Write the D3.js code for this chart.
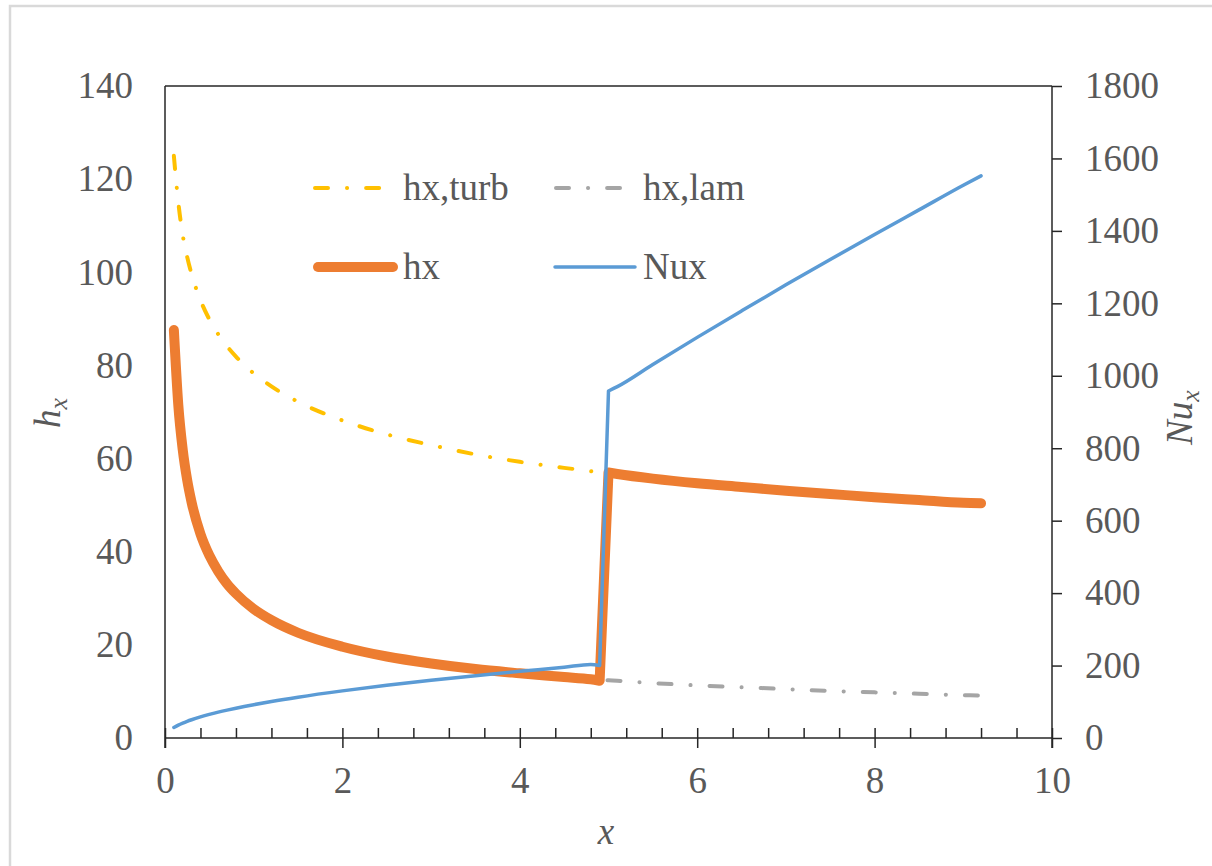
<!DOCTYPE html>
<html>
<head>
<meta charset="utf-8">
<script src="https://cdn.jsdelivr.net/npm/d3@7"></script>
<style>
  html, body { margin: 0; padding: 0; background: #fff; }
  svg { display: block; }
  text { font-family: "Liberation Serif", "Times New Roman", serif; fill: #595959; }
</style>
</head>
<body>
<svg id="chart" width="1212" height="866"></svg>
<script>
// ---- data ----
const xValues = [0.1,0.15,0.2,0.25,0.3,0.4,0.5,0.6,0.7,0.8,1.0,1.2,1.5,2.0,2.5,3.0,3.5,4.0,4.5,4.8,4.9,5.0,5.1,5.5,6.0,6.5,7.0,7.5,8.0,8.5,9.0,9.2];
const hxTurb = [125.0,115.0,108.0,103.3,99.6,94.0,89.9,86.7,84.1,81.9,78.3,75.5,72.2,68.2,65.2,62.9,60.9,59.3,58.0,57.3,57.0,56.8,56.6,55.7,54.7,53.9,53.1,52.4,51.7,51.1,50.5,50.3];
const hxLam  = [87.6,71.5,61.9,55.4,50.6,43.8,39.2,35.8,33.1,31.0,27.7,25.3,22.6,19.6,17.5,16.0,14.8,13.9,13.1,12.6,12.5,12.4,12.3,11.8,11.3,10.9,10.5,10.1,9.8,9.5,9.2,9.1];
const hx     = [87.6,71.5,61.9,55.4,50.6,43.8,39.2,35.8,33.1,31.0,27.7,25.3,22.6,19.6,17.5,16.0,14.8,13.9,13.1,12.6,12.3,57.0,56.7,55.7,54.7,53.9,53.1,52.4,51.7,51.1,50.5,50.4];
const nux    = [29,35.6,41.1,46,50.4,58.2,65.1,71.3,77.0,82.3,92,100.8,112.7,130.1,145.5,159.3,172.1,184,195.2,203,200,958,970,1031,1106,1179,1251,1321,1390,1458,1526,1552];
const transitionX = 5.0; // first x of the turbulent branch (jump in hx / Nux)

const xTicks = [0,2,4,6,8,10];
const xMinorTicks = [0.4,0.8,1.2,1.6,2.4,2.8,3.2,3.6,4.4,4.8,5.2,5.6,6.4,6.8,7.2,7.6,8.4,8.8,9.2,9.6];
const yLeftTicks = [0,20,40,60,80,100,120,140];
const yRightTicks = [0,200,400,600,800,1000,1200,1400,1600,1800];

const seriesNames = ["hx,turb","hx,lam","hx","Nux"];
const seriesColors = ["#FFC000","#A5A5A5","#ED7D31","#5B9BD5"];

// ---- layout ----
const W = 1212, H = 866;
const plot = { left: 165, right: 1052, top: 86, bottom: 738 };
const axisColor = "#262626";
const fontSize = 37;

const svg = d3.select("#chart");
svg.append("rect").attr("width", W).attr("height", H).attr("fill", "#fff");
svg.append("rect").attr("x", 10).attr("y", 6).attr("width", 1230).attr("height", 900)
  .attr("fill", "none").attr("stroke", "#d9d9d9").attr("stroke-width", 2.5);

const x = d3.scaleLinear().domain([0,10]).range([plot.left, plot.right]);
const yL = d3.scaleLinear().domain([0,140]).range([plot.bottom, plot.top]);
const yR = d3.scaleLinear().domain([0,1800]).range([plot.bottom, plot.top]);

svg.append("line").attr("x1", plot.left).attr("x2", plot.right)
  .attr("y1", plot.top).attr("y2", plot.top)
  .attr("stroke", axisColor).attr("stroke-width", 1.5);

const gL = svg.append("g").attr("transform", `translate(${plot.left},0)`)
  .call(d3.axisLeft(yL).tickValues(yLeftTicks).tickSize(0).tickPadding(32).tickFormat(d3.format("d")));
gL.select(".domain").remove();
gL.append("line").attr("x1",0).attr("x2",0).attr("y1",plot.top).attr("y2",plot.bottom+10)
  .attr("stroke", axisColor).attr("stroke-width", 1.5);
gL.selectAll("text").attr("font-size", fontSize).attr("dy", "0.32em")
  .style("font-family", '"Liberation Serif", serif').attr("fill", "#595959");

const gR = svg.append("g").attr("transform", `translate(${plot.right},0)`)
  .call(d3.axisRight(yR).tickValues(yRightTicks).tickSize(10).tickPadding(23).tickFormat(d3.format("d")));
gR.select(".domain").remove();
gR.append("line").attr("x1",0).attr("x2",0).attr("y1",plot.top).attr("y2",plot.bottom+10)
  .attr("stroke", axisColor).attr("stroke-width", 1.5);
gR.selectAll(".tick line").attr("stroke", axisColor).attr("stroke-width", 1.5);
gR.selectAll("text").attr("font-size", fontSize).attr("dy", "0.32em")
  .style("font-family", '"Liberation Serif", serif').attr("fill", "#595959");

const gMinor = svg.append("g").attr("transform", `translate(0,${plot.bottom})`)
  .call(d3.axisBottom(x).tickValues(xMinorTicks).tickSize(-10).tickFormat(""));
gMinor.select(".domain").remove();
gMinor.selectAll(".tick line").attr("stroke", axisColor).attr("stroke-width", 1.5);

const gX = svg.append("g").attr("transform", `translate(0,${plot.bottom})`)
  .call(d3.axisBottom(x).tickValues(xTicks).tickSize(10).tickPadding(45).tickFormat(d3.format("d")));
gX.select(".domain").attr("stroke", axisColor).attr("stroke-width", 1.5).attr("d", `M${plot.left},0H${plot.right}`);
gX.selectAll(".tick line").attr("y1", -10).attr("y2", 10).attr("stroke", axisColor).attr("stroke-width", 1.5);
gX.selectAll("text").attr("font-size", fontSize).attr("dy", 0).attr("y", 55)
  .style("font-family", '"Liberation Serif", serif').attr("fill", "#595959");

// ---- series ----
const smooth = (idx, vals, yScale) => d3.line()
  .x(i => x(xValues[i]))
  .y(i => yScale(vals[i]))
  .curve(d3.curveMonotoneX)(idx);
const allIdx = d3.range(xValues.length);
const branched = (vals, yScale) => {
  const a = allIdx.filter(i => xValues[i] < transitionX);
  const b = allIdx.filter(i => xValues[i] >= transitionX);
  return smooth(a, vals, yScale) + "L" + smooth(b, vals, yScale).slice(1);
};

const dashPattern = "13,19,0.1,19";
svg.append("path").attr("d", smooth(allIdx, hxTurb, yL)).attr("fill","none")
  .attr("stroke", seriesColors[0]).attr("stroke-width", 4).attr("stroke-dasharray", dashPattern)
  .attr("stroke-linecap","round");
svg.append("path").attr("d", smooth(allIdx, hxLam, yL)).attr("fill","none")
  .attr("stroke", seriesColors[1]).attr("stroke-width", 4).attr("stroke-dasharray", dashPattern)
  .attr("stroke-linecap","round");
svg.append("path").attr("d", branched(hx, yL)).attr("fill","none")
  .attr("stroke", seriesColors[2]).attr("stroke-width", 10)
  .attr("stroke-linecap","round").attr("stroke-linejoin","round");
svg.append("path").attr("d", branched(nux, yR)).attr("fill","none")
  .attr("stroke", seriesColors[3]).attr("stroke-width", 3.5)
  .attr("stroke-linecap","round").attr("stroke-linejoin","round");

// ---- legend ----
const legendItems = [
  { name: seriesNames[0], color: seriesColors[0], x1: 313, x2: 380, y: 188, w: 4, dash: dashPattern, tx: 403 },
  { name: seriesNames[1], color: seriesColors[1], x1: 554, x2: 620, y: 188, w: 4, dash: dashPattern, tx: 643 },
  { name: seriesNames[2], color: seriesColors[2], x1: 318, x2: 393, y: 267, w: 10, dash: null, tx: 403 },
  { name: seriesNames[3], color: seriesColors[3], x1: 555, x2: 635, y: 267, w: 3.5, dash: null, tx: 643 }
];
const lg = svg.append("g");
legendItems.forEach(it => {
  const ln = lg.append("line").attr("x1", it.dash ? it.x1 + 2 : it.x1).attr("x2", it.x2)
    .attr("y1", it.y).attr("y2", it.y)
    .attr("stroke", it.color).attr("stroke-width", it.w).attr("stroke-linecap", "round");
  if (it.dash) ln.attr("stroke-dasharray", it.dash);
  lg.append("text").attr("x", it.tx).attr("y", it.y + 12).attr("font-size", fontSize).text(it.name);
});

// ---- axis titles ----
const tl = svg.append("text").attr("transform", "translate(60,428) rotate(-90)")
  .attr("font-size", fontSize).attr("font-style", "italic");
tl.append("tspan").text("h");
tl.append("tspan").attr("font-size", 26).attr("dy", 7).text("x");

const tr = svg.append("text").attr("transform", "translate(1192,445) rotate(-90)")
  .attr("font-size", fontSize).attr("font-style", "italic");
tr.append("tspan").text("Nu");
tr.append("tspan").attr("font-size", 26).attr("dy", 7).text("x");

svg.append("text").attr("x", 606).attr("y", 844).attr("text-anchor", "middle")
  .attr("font-size", fontSize).attr("font-style", "italic").text("x");
</script>
</body>
</html>
